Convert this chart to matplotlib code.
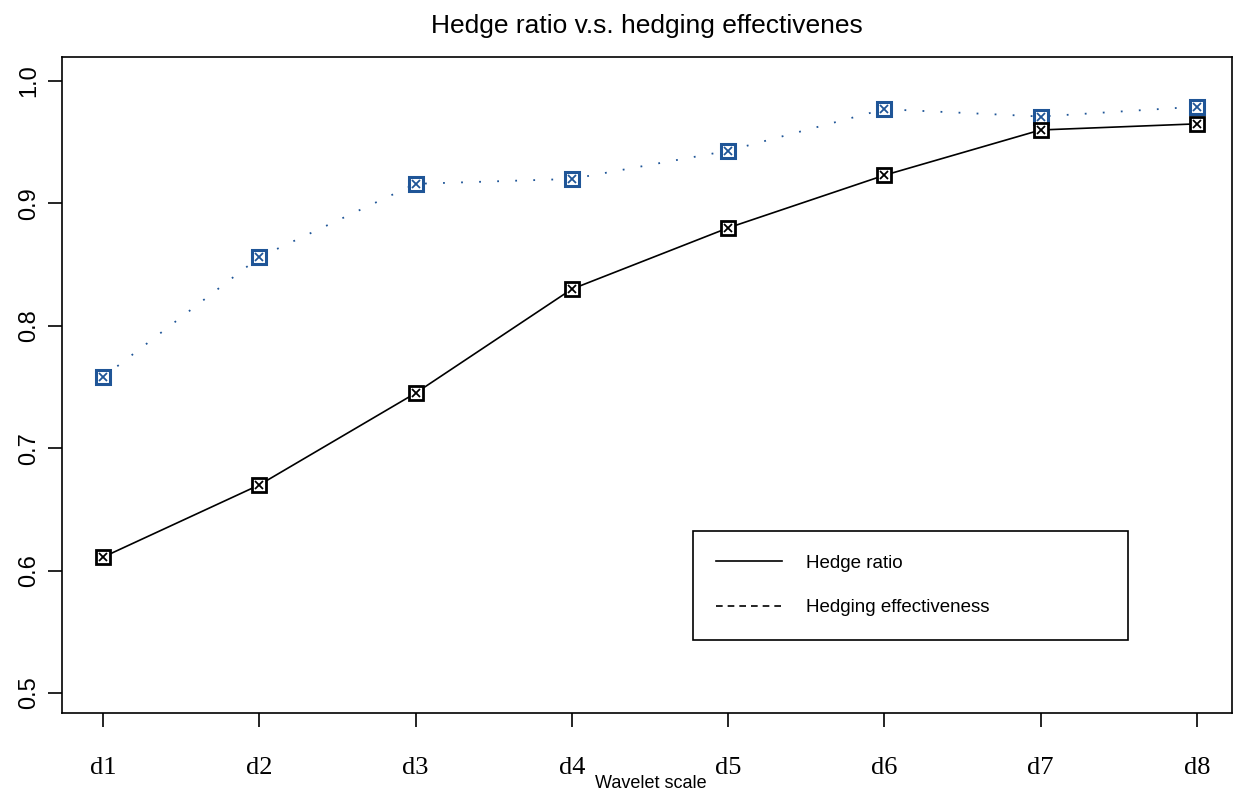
import numpy as np
import matplotlib
matplotlib.use('Agg')
import matplotlib.pyplot as plt
from matplotlib.lines import Line2D

# data
scales = ['d1', 'd2', 'd3', 'd4', 'd5', 'd6', 'd7', 'd8']
hedge_ratio = [0.611, 0.670, 0.745, 0.830, 0.880, 0.923, 0.960, 0.965]
hedging_eff = [0.758, 0.856, 0.916, 0.920, 0.943, 0.977, 0.971, 0.979]
yticks = [0.5, 0.6, 0.7, 0.8, 0.9, 1.0]

blue = '#1f5597'
x = np.arange(1, len(scales) + 1)

fig = plt.figure(figsize=(12.43, 7.93), dpi=100)
ax = fig.add_axes([0.0499, 0.1009, 0.9412, 0.8272])

# hedging effectiveness: sparse dotted blue
ax.plot(x, hedging_eff, color=blue, lw=1.3, ls=(0, (1, 9)), zorder=2)
ax.plot(x, hedging_eff, ls='', marker='s', ms=10, mfc='white', mec=blue, mew=2.2, zorder=3)
ax.plot(x, hedging_eff, ls='', marker='x', ms=6, mec=blue, mew=1.3, zorder=4)

# hedge ratio: solid black
ax.plot(x, hedge_ratio, color='black', lw=1.2, zorder=2)
ax.plot(x, hedge_ratio, ls='', marker='s', ms=10, mfc='white', mec='black', mew=2.0, zorder=3)
ax.plot(x, hedge_ratio, ls='', marker='x', ms=6, mec='black', mew=1.3, zorder=4)

ax.set_xlim(0.738, 8.224)
ax.set_ylim(0.4837, 1.0196)
ax.set_xticks(x)
ax.set_xticklabels(scales, fontfamily='Liberation Serif', fontsize=19)
ax.set_yticks(yticks)
ax.set_yticklabels(['%.1f' % v for v in yticks], rotation=90, va='center',
                   fontfamily='Liberation Sans', fontsize=17)
ax.tick_params(direction='out', length=10, width=1.2, pad=6)
ax.tick_params(axis='x', pad=22)
for s in ax.spines.values():
    s.set_linewidth(1.2)

ax.set_xlabel('Wavelet scale', fontfamily='Liberation Sans', fontsize=13)
ax.xaxis.set_label_coords(0.503, -0.094)
ax.set_title('Hedge ratio v.s. hedging effectivenes', fontfamily='Liberation Sans',
             fontsize=19, pad=17)

handles = [Line2D([], [], color='black', lw=1.2, ls='-'),
           Line2D([], [], color='black', lw=1.2, ls=(0, (4, 3)))]
leg = ax.legend(handles, ['Hedge ratio', 'Hedging effectiveness'],
                bbox_to_anchor=(0.539, 0.114, 0.372, 0.163), loc='upper left',
                mode='expand', fancybox=False, edgecolor='black', framealpha=1,
                prop={'family': 'Liberation Sans', 'size': 13.5},
                handlelength=3.5, handletextpad=1.3, labelspacing=1.45,
                borderpad=1.25, borderaxespad=0)
leg.get_frame().set_linewidth(1.2)

fig.savefig('out.png', dpi=100)
